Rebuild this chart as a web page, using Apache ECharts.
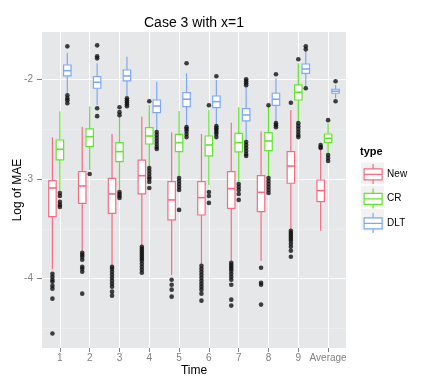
<!DOCTYPE html>
<html>
<head>
<meta charset="utf-8">
<script src="https://cdn.jsdelivr.net/npm/echarts@6/dist/echarts.min.js"></script>
<style>
  html, body { margin: 0; padding: 0; background: #fff; }
  #chart { width: 436px; height: 386px; }
</style>
</head>
<body>
<div id="chart"></div>
<script>
// time labels on the x axis
const timeLabels = ['1', '2', '3', '4', '5', '6', '7', '8', '9', 'Average']

// box stats per time: [lower whisker, Q1, median, Q3, upper whisker]
const newStats = [
  [-3.906, -3.378, -3.09, -3.017, -2.582],
  [-3.719, -3.244, -3.07, -2.927, -2.475],
  [-3.862, -3.344, -3.15, -2.993, -2.549],
  [-3.662, -3.15, -2.967, -2.81, -2.375],
  [-3.963, -3.411, -3.21, -3.027, -2.535],
  [-3.853, -3.361, -3.187, -3.027, -2.549],
  [-3.819, -3.294, -3.097, -2.927, -2.435],
  [-3.819, -3.328, -3.134, -2.967, -2.525],
  [-3.505, -3.043, -2.87, -2.726, -2.308],
  [-3.519, -3.228, -3.117, -3.01, -2.709]
]
const crStats = [
  [-3.117, -2.809, -2.702, -2.609, -2.321],
  [-2.91, -2.676, -2.576, -2.498, -2.274],
  [-3.11, -2.826, -2.726, -2.636, -2.375],
  [-2.876, -2.649, -2.569, -2.485, -2.258],
  [-2.977, -2.726, -2.636, -2.552, -2.318],
  [-3.06, -2.769, -2.659, -2.569, -2.308],
  [-3.027, -2.729, -2.636, -2.542, -2.281],
  [-2.977, -2.716, -2.619, -2.535, -2.27],
  [-2.425, -2.208, -2.13, -2.057, -1.84],
  [-2.742, -2.632, -2.592, -2.549, -2.441]
]
const dltStats = [
  [-2.14, -1.967, -1.914, -1.857, -1.733],
  [-2.258, -2.09, -2.03, -1.974, -1.84],
  [-2.168, -2.017, -1.967, -1.907, -1.773],
  [-2.509, -2.335, -2.268, -2.208, -2.024],
  [-2.468, -2.274, -2.2, -2.134, -1.94],
  [-2.458, -2.285, -2.224, -2.168, -2.007],
  [-2.619, -2.418, -2.358, -2.295, -2.074],
  [-2.435, -2.261, -2.2, -2.14, -1.99],
  [-2.074, -1.94, -1.897, -1.847, -1.713],
  [-2.191, -2.14, -2.12, -2.1, -2.057]
]

// outliers per time
const newOutliers = [
  [-3.95, -3.98, -4.01, -4.03, -4.07, -4.1, -4.2, -4.55],
  [-3.74, -3.76, -3.78, -3.81, -3.88, -3.9, -3.93, -4.15],
  [-3.88, -3.9, -3.93, -3.96, -3.99, -4.02, -4.05, -4.08, -4.13, -4.17],
  [-3.68, -3.7, -3.72, -3.74, -3.76, -3.78, -3.8, -3.82, -3.85, -3.88, -3.91, -3.94],
  [-4.01, -4.06, -4.11, -4.18],
  [-3.87, -3.9, -3.93, -3.96, -3.99, -4.02, -4.05, -4.08, -4.11, -4.15, -4.22],
  [-3.84, -3.86, -3.88, -3.9, -3.92, -3.95, -3.98, -4.01, -4.06, -4.21, -4.27],
  [-3.89, -4.04, -4.06, -4.26],
  [-2.235, -3.52, -3.54, -3.56, -3.58, -3.6, -3.62, -3.65, -3.68, -3.72, -3.78],
  [-2.66, -2.68, -2.69]
]
const crOutliers = [
  [-3.14, -3.17, -3.23, -3.26, -3.28],
  [-2.95],
  [-2.28, -2.33, -2.36, -3.13, -3.15, -3.17, -3.19],
  [-2.22, -2.89, -2.92, -2.95, -2.98, -3.0, -3.03, -3.09],
  [-2.99, -3.02, -3.05, -3.08, -3.11, -3.31],
  [-2.26, -3.13, -3.17, -3.24],
  [-3.05, -3.08, -3.11, -3.15, -3.21],
  [-2.26, -2.99, -3.02, -3.05, -3.08, -3.11, -3.14],
  [-1.8, -2.44, -2.47, -2.5, -2.53, -2.56, -2.58],
  [-2.41, -2.76, -2.79, -2.82]
]
const dltOutliers = [
  [-1.67, -2.16, -2.19, -2.21, -2.24],
  [-1.66, -1.77, -1.79, -2.29, -2.37],
  [-2.19, -2.21, -2.23, -2.25, -2.27],
  [-2.53, -2.56, -2.59, -2.62, -2.65, -2.68, -2.7],
  [-1.84, -2.48, -2.5, -2.52, -2.55, -2.58],
  [-1.97, -2.47, -2.49, -2.51, -2.53, -2.55, -2.58],
  [-2.0, -2.02, -2.04, -2.06, -2.63, -2.66, -2.69, -2.72, -2.75, -2.77],
  [-1.95, -2.44, -2.46, -2.48],
  [-1.67, -1.7, -2.09],
  [-2.02, -2.22]
]

const yTicks = [-4, -3, -2]
const yMinorTicks = [-4.5, -3.5, -2.5]

const FONT = 'Liberation Sans, Arial, Helvetica, sans-serif'
const groups = [
  { name: 'New', color: '#F56C84', stats: newStats, outliers: newOutliers, offset: -0.25 },
  { name: 'CR', color: '#62E52E', stats: crStats, outliers: crOutliers, offset: 0 },
  { name: 'DLT', color: '#7EA8F4', stats: dltStats, outliers: dltOutliers, offset: 0.25 }
]
const halfBox = 0.125

const makeRenderer = (color) => (params, api) => {
  const x = api.value(0)
  const lo = api.coord([x, api.value(1)])
  const q1 = api.coord([x, api.value(2)])
  const med = api.coord([x, api.value(3)])
  const q3 = api.coord([x, api.value(4)])
  const hi = api.coord([x, api.value(5)])
  const left = api.coord([x - halfBox, api.value(3)])[0]
  const right = api.coord([x + halfBox, api.value(3)])[0]
  const lineStyle = { stroke: color, lineWidth: 1.2 }
  return {
    type: 'group',
    children: [
      { type: 'line', shape: { x1: hi[0], y1: hi[1], x2: q3[0], y2: q3[1] }, style: lineStyle },
      { type: 'line', shape: { x1: q1[0], y1: q1[1], x2: lo[0], y2: lo[1] }, style: lineStyle },
      {
        type: 'rect',
        shape: { x: left, y: q3[1], width: right - left, height: q1[1] - q3[1] },
        style: { fill: '#fff', stroke: color, lineWidth: 1.2 }
      },
      { type: 'line', shape: { x1: left, y1: med[1], x2: right, y2: med[1] }, style: { stroke: color, lineWidth: 1.6 } }
    ]
  }
}

const boxIcon = 'path://M9,0L9,5M0,5L18,5L18,16L0,16ZM0,10.5L18,10.5M9,16L9,20'

const series = []
groups.forEach(g => {
  series.push({
    name: g.name,
    type: 'custom',
    renderItem: makeRenderer(g.color),
    itemStyle: { color: '#fff', borderColor: g.color },
    encode: { x: 0, y: [1, 2, 3, 4, 5] },
    data: g.stats.map((s, i) => [i + 1 + g.offset, ...s]),
    z: 3
  })
})
groups.forEach(g => {
  const pts = []
  g.outliers.forEach((vals, i) => {
    vals.forEach(v => pts.push([i + 1 + g.offset, v]))
  })
  series.push({
    name: g.name + ' outliers',
    type: 'scatter',
    symbolSize: 4.6,
    itemStyle: { color: '#111' },
    data: pts,
    z: 4
  })
})

const chart = echarts.init(document.getElementById('chart'))

const option = {
  animation: false,
  textStyle: { fontFamily: FONT },
  title: [
    {
      text: 'Case 3 with x=1',
      left: 194,
      top: 16,
      padding: 0,
      textAlign: 'center',
      textStyle: { fontSize: 14, fontWeight: 'normal', color: '#000', fontFamily: FONT }
    },
    {
      text: 'type',
      left: 360,
      top: 146,
      padding: 0,
      textStyle: { fontSize: 11, fontWeight: 'bold', color: '#000', fontFamily: FONT }
    }
  ],
  legend: {
    data: groups.map(g => ({
      name: g.name,
      icon: boxIcon,
      itemStyle: { color: '#fff', borderColor: g.color, borderWidth: 1.2 }
    })),
    orient: 'vertical',
    left: 363.5,
    top: 163.3,
    padding: 0,
    itemWidth: 18,
    itemHeight: 20,
    itemGap: 3.3,
    selectedMode: false,
    textStyle: { fontSize: 10, color: '#000', fontFamily: FONT }
  },
  graphic: [0, 1, 2].map(i => ({
    type: 'rect',
    left: 361,
    top: 162.5 + i * 23.3,
    shape: { width: 23, height: 21.5 },
    style: { fill: '#F2F2F2' },
    z: 0
  })),
  grid: {
    left: 42,
    right: 90,
    top: 32,
    bottom: 38,
    show: true,
    backgroundColor: '#E6E7E8',
    borderWidth: 0,
    outerBoundsMode: 'none'
  },
  xAxis: {
    type: 'value',
    min: 0.4,
    max: 10.6,
    name: 'Time',
    nameLocation: 'middle',
    nameGap: 17,
    nameMoveOverlap: false,
    nameTextStyle: { fontSize: 12, color: '#000', fontFamily: FONT },
    axisLine: { show: false },
    axisTick: {
      show: true,
      length: 4,
      customValues: timeLabels.map((t, i) => i + 1),
      lineStyle: { color: '#7F7F7F' }
    },
    axisLabel: {
      customValues: timeLabels.map((t, i) => i + 1),
      formatter: v => timeLabels[Math.round(v) - 1],
      fontSize: 10,
      color: '#7F7F7F',
      margin: 5
    },
    splitLine: { show: true, lineStyle: { color: '#fff', width: 1 } }
  },
  yAxis: [
    {
      type: 'value',
      min: -4.695,
      max: -1.526,
      name: 'Log of MAE',
      nameLocation: 'middle',
      nameRotate: 90,
      nameGap: 18,
      nameMoveOverlap: false,
      nameTextStyle: { fontSize: 12, color: '#000', fontFamily: FONT },
      axisLine: { show: false },
      axisTick: {
        show: true,
        length: 5,
        customValues: yTicks,
        lineStyle: { color: '#7F7F7F' }
      },
      axisLabel: {
        customValues: yTicks,
        fontSize: 10,
        color: '#7F7F7F',
        margin: 9
      },
      splitLine: { show: true, lineStyle: { color: '#fff', width: 1 } }
    },
    {
      type: 'value',
      position: 'left',
      min: -4.695,
      max: -1.526,
      axisLine: { show: false },
      axisTick: { show: false, customValues: yMinorTicks },
      axisLabel: { show: false, customValues: yMinorTicks },
      splitLine: { show: true, lineStyle: { color: '#F2F2F2', width: 0.6 } }
    }
  ],
  series: series
}

chart.setOption(option)
</script>
</body>
</html>
